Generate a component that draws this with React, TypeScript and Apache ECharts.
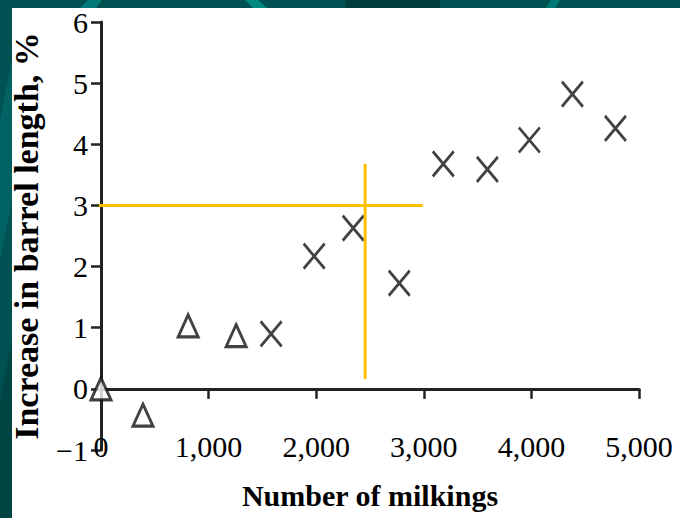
import React, { useEffect, useRef } from "react";
import * as echarts from "echarts";

// Triangles (early milkings)
const triangleX = [0, 390, 810, 1256];
const triangleY = [0, -0.43, 1.03, 0.87];
// Crosses
const crossX = [1581, 1981, 2344, 2772, 3181, 3591, 3981, 4381, 4781];
const crossY = [0.9, 2.17, 2.63, 1.73, 3.68, 3.59, 4.07, 4.82, 4.26];
// Yellow guide lines
const guideH = [[-170, 3], [2990, 3]];
const guideV = [[2455, 0.16], [2455, 3.68]];

const xTicks = { min: 0, max: 5000, interval: 1000 };
const yTicks = { min: -1, max: 6, interval: 1 };

const FONT = "'Liberation Serif', 'Times New Roman', serif";

export default function App() {
  const ref = useRef<HTMLDivElement>(null);
  useEffect(() => {
    if (!ref.current) return;
    const chart = echarts.init(ref.current, null, { renderer: "svg" });
    const zip = (xs: number[], ys: number[]) => xs.map((x, i) => [x, ys[i]]);
    chart.setOption({
      animation: false,
      backgroundColor: "#ffffff",
      graphic: [
        { type: "rect", z: -10, silent: true, shape: { x: 0, y: 0, width: 680, height: 518 }, style: { fill: "#005252" } },
        { type: "polygon", z: -9, silent: true, shape: { points: [[345, 0], [440, 0], [440, 8], [345, 8]] }, style: { fill: "#003e3e" } },
        { type: "polygon", z: -9, silent: true, shape: { points: [[88, 0], [102, 0], [96, 8], [80, 8]] }, style: { fill: "#007a76" } },
        { type: "polygon", z: -9, silent: true, shape: { points: [[245, 0], [258, 0], [267, 8], [253, 8]] }, style: { fill: "#008a82" } },
        { type: "polygon", z: -9, silent: true, shape: { points: [[551, 0], [560, 0], [555, 8], [546, 8]] }, style: { fill: "#007a76" } },
        { type: "polygon", z: -9, silent: true, shape: { points: [[0, 120], [12, 60], [12, 200], [0, 260]] }, style: { fill: "#006262" } },
        { type: "polygon", z: -9, silent: true, shape: { points: [[0, 400], [12, 340], [12, 518], [0, 518]] }, style: { fill: "#004444" } },
        { type: "rect", z: -8, silent: true, shape: { x: 12, y: 8, width: 668, height: 510 }, style: { fill: "#ffffff" } },
      ],
      grid: { left: 101, right: 41, top: 22, bottom: 68 },
      xAxis: [
        {
          type: "value",
          ...xTicks,
          position: "bottom",
          axisLine: { show: false, onZero: false },
          axisTick: { show: false },
          splitLine: { show: false },
          axisLabel: {
            margin: -19,
            fontFamily: FONT,
            fontSize: 30,
            color: "#000",
            formatter: (v: number) => v.toLocaleString("en-US"),
          },
          name: "Number of milkings",
          nameLocation: "middle",
          nameGap: 30,
          nameTextStyle: { fontFamily: FONT, fontSize: 30, fontWeight: "bold", color: "#000" },
        },
        {
          type: "value",
          ...xTicks,
          position: "bottom",
          axisLine: { show: true, onZero: true, lineStyle: { color: "#222", width: 3 } },
          axisTick: { show: true, length: 10, lineStyle: { color: "#222", width: 2.5 } },
          axisLabel: { show: false },
          splitLine: { show: false },
        },
      ],
      yAxis: {
        type: "value",
        ...yTicks,
        axisLine: { show: true, onZero: false, lineStyle: { color: "#222", width: 3 } },
        axisTick: { show: true, length: 10, lineStyle: { color: "#222", width: 2.5 } },
        splitLine: { show: false },
        axisLabel: {
          margin: 13,
          fontFamily: FONT,
          fontSize: 30,
          color: "#000",
          formatter: (v: number) => (v < 0 ? "\u2212" + Math.abs(v) : String(v)),
        },
        name: "Increase in barrel length, %",
        nameLocation: "middle",
        nameGap: 58,
        nameTextStyle: { fontFamily: FONT, fontSize: 34, fontWeight: "bold", color: "#000" },
      },
      series: [
        {
          type: "scatter",
          data: zip(triangleX, triangleY),
          symbol: "triangle",
          symbolSize: [20, 22],
          itemStyle: { color: "#ffffff", borderColor: "#111", borderWidth: 3 },
          z: 3,
        },
        {
          type: "scatter",
          data: zip(crossX, crossY),
          symbol: "path://M0,0L20,24M20,0L0,24",
          symbolSize: [21, 25],
          itemStyle: { color: "none", borderColor: "#111", borderWidth: 2.8 },
          z: 3,
        },
        {
          type: "line",
          data: guideH,
          clip: false,
          symbol: "none",
          silent: true,
          lineStyle: { color: "#ffc000", width: 3 },
          z: 4,
        },
        {
          type: "line",
          data: guideV,
          clip: false,
          symbol: "none",
          silent: true,
          lineStyle: { color: "#ffc000", width: 3 },
          z: 4,
        },
      ],
    });
    return () => chart.dispose();
  }, []);
  return (
    <div
      ref={ref}
      style={{ position: "fixed", left: 0, top: 0, width: 680, height: 518 }}
    />
  );
}
